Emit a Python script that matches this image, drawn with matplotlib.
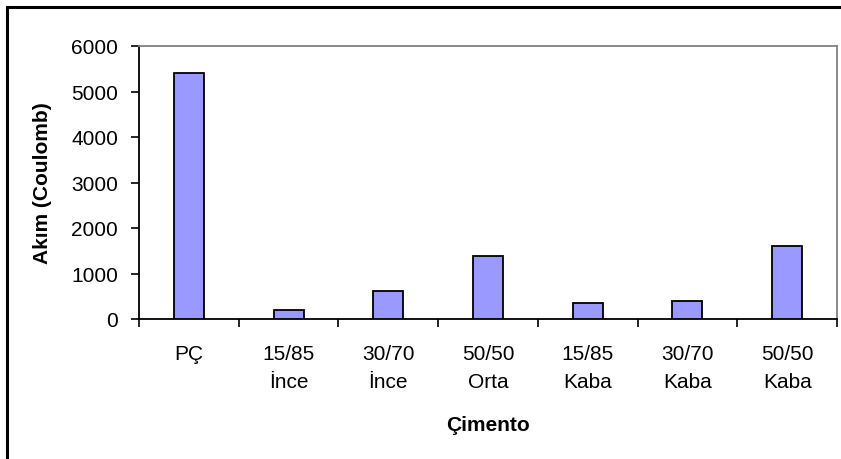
import matplotlib
matplotlib.use("Agg")
import matplotlib.pyplot as plt
from matplotlib.patches import Rectangle

plt.rcParams['font.family'] = ['Liberation Sans', 'DejaVu Sans']

categories = ["PÇ", "15/85\nİnce", "30/70\nİnce", "50/50\nOrta",
              "15/85\nKaba", "30/70\nKaba", "50/50\nKaba"]
values = [5400, 190, 620, 1380, 350, 390, 1600]
yticks = [0, 1000, 2000, 3000, 4000, 5000, 6000]

fig = plt.figure(figsize=(8.41, 4.60), dpi=100)
ax = fig.add_axes([139 / 841, 140 / 460, 698 / 841, 273 / 460])

x = list(range(len(categories)))
ax.bar(x, values, width=0.30, color="#9999FF", edgecolor="black", linewidth=1.3, zorder=3)

ax.set_xlim(-0.5, len(categories) - 0.5)
ax.set_ylim(0, 6000)
ax.set_yticks(yticks)
ax.set_yticklabels([str(v) for v in yticks])

# category boundaries carry the x tick marks, labels sit at centres
ax.set_xticks([i - 0.5 for i in range(len(categories) + 1)])
ax.set_xticklabels([])
ax.set_xticks(x, minor=True)
ax.set_xticklabels(categories, minor=True, fontsize=15, linespacing=1.6)
ax.tick_params(axis='x', which='minor', length=0, pad=18)
ax.tick_params(axis='x', which='major', length=6, width=1.2, direction='out')
ax.tick_params(axis='y', length=6, width=1.2, direction='out', pad=9, labelsize=15)

for side in ("left", "bottom"):
    ax.spines[side].set_color("black")
    ax.spines[side].set_linewidth(1.3)
for side in ("top", "right"):
    ax.spines[side].set_color("#808080")
    ax.spines[side].set_linewidth(1.3)

ax.set_ylabel("Akım (Coulomb)", fontsize=15, fontweight="bold", labelpad=14)
ax.set_xlabel("Çimento", fontsize=15, fontweight="bold", labelpad=17)

# chart frame
fig.patches.append(Rectangle((7 / 841, -0.05), 1.2, (460 - 8) / 460 + 0.05,
                             transform=fig.transFigure, fill=False,
                             edgecolor="black", linewidth=2.2))

fig.savefig("out.png", dpi=100)
